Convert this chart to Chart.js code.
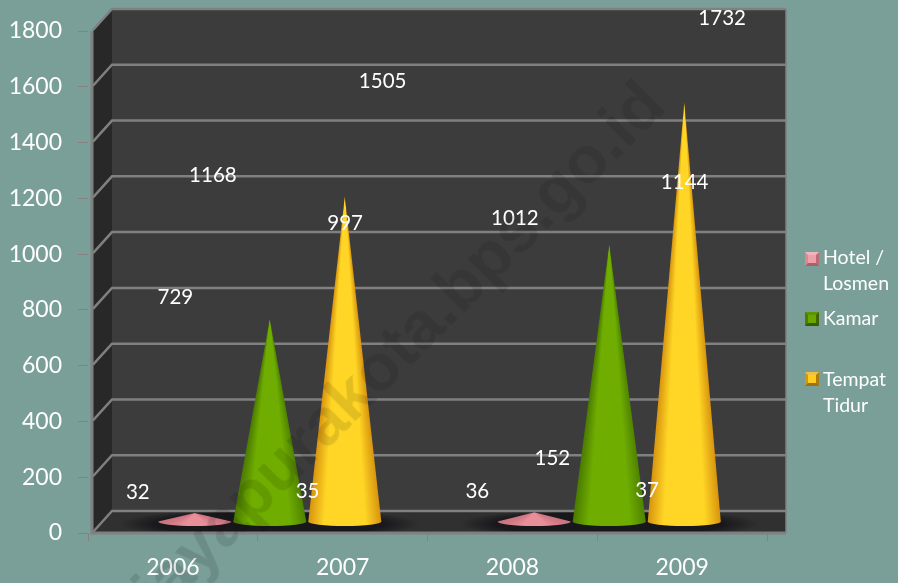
<!DOCTYPE html>
<html>
<head>
<meta charset="utf-8">
<style>
  html, body { margin: 0; padding: 0; background: #799f98; }
  #wrap { position: relative; width: 898px; height: 583px; overflow: hidden; }
  canvas { display: block; }
  .leg { position: absolute; left: 823px; color: #fff; font: 19.5px/26px Lato, sans-serif; white-space: nowrap; }
  .box { position: absolute; left: 805px; width: 14px; height: 14px; box-sizing: border-box; border: 3px solid; }
  #mark { position: absolute; left: -548px; top: 52px; width: 1200px; height: 80px; line-height: 80px; text-align: right;
          white-space: nowrap; font-weight: bold; font-size: 66px; font-family: "Liberation Sans", sans-serif;
          color: rgba(0,0,0,0.11); transform: rotate(-45deg); transform-origin: 100% 50%; pointer-events: none; }
</style>
</head>
<body>
<div id="wrap">
  <canvas id="grafico" width="898" height="583"></canvas>
  <div class="box" style="top:252px;background:#ee9fa8;border-color:#f2b5bb #b96c76 #a9606a #d98a94"></div>
  <div class="leg" style="top:244px">Hotel /<br>Losmen</div>
  <div class="box" style="top:312px;background:#6aa800;border-color:#5d9400 #3f6400 #3a5c00 #4d7c00"></div>
  <div class="leg" style="top:305px">Kamar</div>
  <div class="box" style="top:372px;background:#ffcc1e;border-color:#f0c040 #a87c10 #9a7210 #c89a18"></div>
  <div class="leg" style="top:366px">Tempat<br>Tidur</div>
  <div id="mark">https://jayapurakota.bps.go.id</div>
</div>
<script src="https://cdn.jsdelivr.net/npm/chart.js@4"></script>
<script>
// datos
const years = ['2006', '2007', '2008', '2009'];
const hotel = [32, 35, 36, 37];
const kamar = [729, 997, 1012, 1144];
const tempatTidur = [1168, 1505, 152, 1732];
const yTicks = [0, 200, 400, 600, 800, 1000, 1200, 1400, 1600, 1800];

// los conos solo muestran los dos primeros años, estirados sobre todo el eje
const coneYears = years.slice(0, 2);
const coneColors = {
    hotel: ['#c9737f', '#e98f99', '#c9737f'],
    kamar: ['#4a7a00', '#6fad00', '#4f8200'],
    tempat: ['#d8940f', '#ffd625', '#d8940f']
};

const depthX = 19, depthY = 22;
const coneShiftX = 12, coneShiftY = 11;
const slotShare = 0.221;

// paredes 3D y rejilla
const walls = {
    id: 'walls',
    beforeDatasetsDraw(chart) {
        const c = chart.ctx, y = chart.scales.y, x2 = chart.scales.x2;
        const left = 93, right = 786;
        const top = y.getPixelForValue(1800), zero = y.getPixelForValue(0);
        c.save();
        c.fillStyle = '#3c3c3c';
        c.fillRect(left + depthX, top - depthY, right - left - depthX, zero - top);
        c.fillStyle = '#282828';
        c.beginPath();
        c.moveTo(left, top);
        c.lineTo(left + depthX, top - depthY);
        c.lineTo(left + depthX, zero - depthY);
        c.lineTo(left, zero);
        c.closePath();
        c.fill();
        // suelo
        c.save();
        c.fillStyle = '#303030';
        c.beginPath();
        c.moveTo(left, zero - 1);
        c.lineTo(left + depthX, zero - depthY);
        c.lineTo(right, zero - depthY);
        c.lineTo(right, zero - 1);
        c.closePath();
        c.fill();
        c.clip();
        // sombras de los conos en el suelo
        coneYears.forEach((yr, i) => {
            const s = c.createRadialGradient(0, 0, 0, 0, 0, 1);
            s.addColorStop(0.75, 'rgba(24,24,28,1)');
            s.addColorStop(1, 'rgba(24,24,28,0)');
            c.save();
            c.translate(x2.getPixelForTick(i) + coneShiftX, zero - 9);
            c.scale(150, 16);
            c.fillStyle = s;
            c.fillRect(-1, -1, 2, 2);
            c.restore();
        });
        c.restore();
        // rejilla
        c.strokeStyle = '#808080';
        c.lineWidth = 2.5;
        yTicks.forEach(v => {
            const py = y.getPixelForValue(v);
            c.beginPath();
            c.moveTo(left, py - 1);
            c.lineTo(left + depthX, py - depthY);
            c.lineTo(right, py - depthY);
            c.stroke();
        });
        c.lineWidth = 3;
        c.beginPath();
        c.moveTo(left - 1, top);
        c.lineTo(left - 1, zero);
        c.lineTo(right, zero);
        c.stroke();
        c.lineWidth = 1.5;
        c.beginPath();
        c.moveTo(right, top - depthY);
        c.lineTo(right, zero);
        c.stroke();
        c.restore();
    }
};

// sombreado con gradiente conico desde la punta, de borde a borde
function drawCone(c, x, tip, base, halfW, stops) {
    const alpha = Math.atan2(halfW, base - tip);
    const span = 2 * alpha / (2 * Math.PI);
    const g = c.createConicGradient(Math.PI / 2 - alpha, x, tip);
    g.addColorStop(0, stops[2]);
    g.addColorStop(span * 0.22, stops[1]);
    g.addColorStop(span * 0.78, stops[1]);
    g.addColorStop(span, stops[0]);
    g.addColorStop(Math.min(span + 0.01, 1), stops[0]);
    c.fillStyle = g;
    c.beginPath();
    c.moveTo(x, tip);
    c.lineTo(x + halfW, base);
    c.ellipse(x, base, halfW, 4.5, 0, 0, Math.PI);
    c.closePath();
    c.fill();
}

// dibuja los conos y las etiquetas de valor
const conesAndLabels = {
    id: 'conesAndLabels',
    afterDatasetsDraw(chart) {
        const c = chart.ctx, x = chart.scales.x;
        const step = (x.getPixelForTick(1) - x.getPixelForTick(0)) * slotShare;
        chart.data.datasets.forEach((ds, i) => {
            if (!ds.cone) return;
            chart.getDatasetMeta(i).data.forEach(bar => {
                drawCone(c, bar.x + ds.slot * bar.width + coneShiftX, bar.y - coneShiftY, bar.base - coneShiftY, bar.width / 2 - 1, ds.cone);
            });
        });
        c.save();
        c.fillStyle = '#fff';
        c.font = '20.5px Lato, sans-serif';
        c.textAlign = 'center';
        c.textBaseline = 'middle';
        chart.data.datasets.forEach((ds, i) => {
            if (ds.cone) return;
            chart.getDatasetMeta(i).data.forEach((pt, j) => {
                c.fillText(ds.data[j], pt.x + ds.slot * step + 2.5, pt.y - 32);
            });
        });
        c.restore();
    }
};

function coneSet(label, values, stops, slot) {
    return { label, data: values.slice(0, 2), xAxisID: 'x2', cone: stops, slot, grouped: false,
             backgroundColor: 'transparent', barPercentage: 1, categoryPercentage: slotShare };
}
function labelSet(label, values, slot) {
    return { type: 'line', label, data: values, xAxisID: 'x', slot, showLine: false, pointRadius: 0 };
}

new Chart(document.getElementById('grafico').getContext('2d'), {
    type: 'bar',
    data: {
        labels: years,
        datasets: [
            coneSet('Hotel / Losmen', hotel, coneColors.hotel, -1),
            coneSet('Kamar', kamar, coneColors.kamar, 0),
            coneSet('Tempat Tidur', tempatTidur, coneColors.tempat, 1),
            labelSet('Hotel / Losmen', hotel, -1),
            labelSet('Kamar', kamar, 0),
            labelSet('Tempat Tidur', tempatTidur, 1)
        ]
    },
    options: {
        responsive: false,
        animation: false,
        layout: { padding: { left: 0, right: 131, top: 31, bottom: 0 } },
        plugins: { legend: { display: false }, tooltip: { enabled: false } },
        scales: {
            x: {
                labels: years,
                position: 'bottom',
                afterFit(axis) { axis.height = 50; },
                grid: { drawOnChartArea: false, color: '#8a7f7f', tickLength: 8 },
                border: { display: false },
                ticks: { color: '#fff', font: { family: 'Lato', size: 23 }, padding: 13 }
            },
            x2: {
                labels: coneYears,
                display: false,
                offset: true
            },
            y: {
                min: 0,
                max: 1800,
                afterBuildTicks(axis) { axis.ticks = yTicks.map(value => ({ value })); },
                afterFit(axis) { axis.width = 88; },
                grid: { drawOnChartArea: false, color: '#8a7f7f', tickLength: 10 },
                border: { display: false },
                ticks: { color: '#fff', font: { family: 'Lato', size: 23 }, padding: 16, callback: v => String(v) }
            }
        }
    },
    plugins: [walls, conesAndLabels]
});
</script>
</body>
</html>
